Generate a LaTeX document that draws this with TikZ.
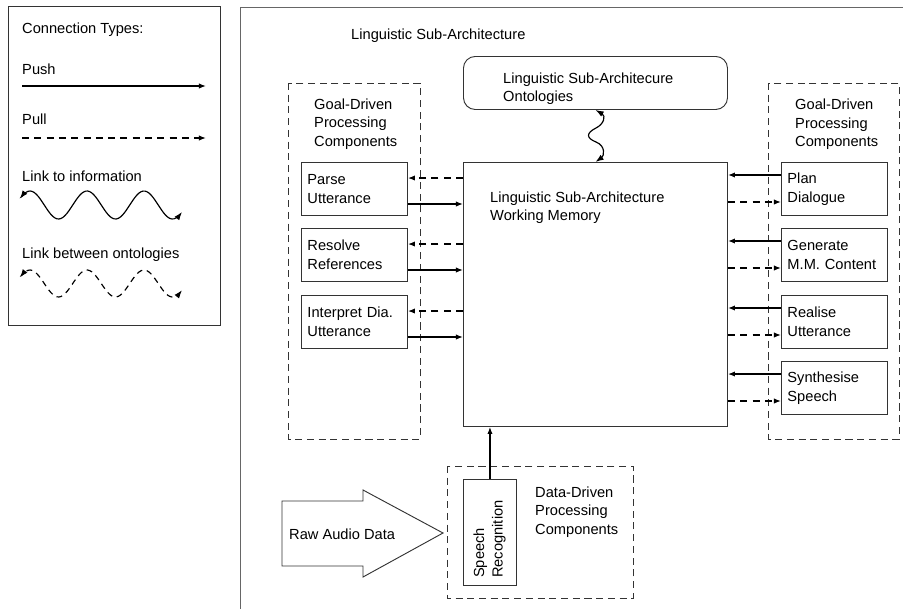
\documentclass[tikz,border=0pt]{standalone}
\usepackage{fontspec}
\setmainfont{Liberation Sans}
\usetikzlibrary{arrows.meta}

\begin{document}
\begin{tikzpicture}[
        x=0.03cm, y=-0.03cm,
        every node/.style={font=\fontsize{12.5}{15.8}\selectfont},
        txt/.style={inner sep=0pt, anchor=north west, align=left},
        comp/.style={draw=black!80, line width=0.8pt, anchor=north west, text width=2.82cm, inner xsep=0.18cm, inner ysep=0pt, minimum height=1.59cm, align=left},
        group/.style={draw=black!80, line width=0.8pt, dash pattern=on 6pt off 4pt},
        push/.style={line width=1pt, -{Latex[length=6pt,width=4.5pt]}},
        pull/.style={push, dash pattern=on 6pt off 4.5pt},
        infolink/.style={line width=1pt, {Latex[length=7pt,width=5pt]}-{Latex[length=7pt,width=5pt]}}
    ]

    \useasboundingbox (0,0) rectangle (903,609);
    \def\k{6.3158} % degrees per pixel of the legend waves

    % legend
    \draw[black!80, line width=0.8pt] (8,6) rectangle (220,325);
    \node[txt] (lgtitle) at (22,22.5) {Connection Types:};
    \node[txt] (lgpush) at (22,63.5) {Push};
    \coordinate (pushA) at (22,86);
    \coordinate (pushB) at (206,86);
    \draw[push] (pushA) -- (pushB);
    \node[txt] (lgpull) at (22,113.5) {Pull};
    \coordinate (pullA) at (22,138);
    \coordinate (pullB) at (206,138);
    \draw[pull] (pullA) -- (pullB);
    \node[txt] (lginfo) at (22,170.5) {Link to information};
    \draw[infolink, domain=20:182, samples=80, smooth] plot (\x, {205-14*cos(\k*(\x-30))});
    \node[txt] (lgonto) at (22,247.5) {Link between ontologies};
    \draw[infolink, dash pattern=on 5pt off 4pt, domain=20:182, samples=80, smooth] plot (\x, {283.5-13.5*cos(\k*(\x-30))});

    % sub-architecture frame
    \draw[black!60, line width=0.8pt] (903,7) -- (240,7) -- (240,609);
    \node[txt] (lsa) at (351,28.5) {Linguistic Sub-Architecture};

    % ontologies and working memory
    \node[draw=black!80, line width=0.8pt, rounded corners=10pt, anchor=north west, minimum width=7.92cm, minimum height=1.59cm, inner sep=0pt] (onto) at (463,56) {};
    \node[txt] (ontotxt) at (503,72.5) {Linguistic Sub-Architecure\\Ontologies};
    \node[draw=black!80, line width=0.8pt, anchor=north west, minimum width=7.92cm, minimum height=7.92cm, inner sep=0pt] (wm) at (463,162) {};
    \node[txt] (wmtxt) at (490,191.5) {Linguistic Sub-Architecture\\Working Memory};
    \draw[infolink] (onto.south) .. controls (606,116) and (604,124) .. (596,128)
        .. controls (586,133) and (586,138) .. (596,142)
        .. controls (606,146) and (604,156) .. (wm.north);

    % goal-driven, left
    \draw[group] (288,83) rectangle (420,439);
    \node[txt] (gdl) at (314,98.5) {Goal-Driven\\Processing\\Components};
    \foreach \n/\t/\lbl in {1/162/{Parse\\Utterance}, 2/228/{Resolve\\References}, 3/295/{Interpret Dia.\\Utterance}} {
        \node[comp] (l\n) at (301,\t) {\lbl};
        \path (l\n.north east) ++(0,16) coordinate (l\n pull) ++(0,26) coordinate (l\n push);
        \draw[pull] (l\n pull -| wm.west) -- (l\n pull);
        \draw[push] (l\n push) -- (l\n push -| wm.west);
    }

    % goal-driven, right
    \draw[group] (768,83) rectangle (899,439);
    \node[txt] (gdr) at (795,99) {Goal-Driven\\Processing\\Components};
    \foreach \n/\t/\lbl in {1/162/{Plan\\Dialogue}, 2/228/{Generate\\M.M. Content}, 3/295/{Realise\\Utterance}, 4/361/{Synthesise\\Speech}} {
        \node[comp] (r\n) at (781,\t) {\lbl};
        \path (r\n.north west) ++(0,13) coordinate (r\n push) ++(0,27) coordinate (r\n pull);
        \draw[push] (r\n push) -- (r\n push -| wm.east);
        \draw[pull] (r\n pull -| wm.east) -- (r\n pull);
    }

    % data-driven
    \draw[group] (447,466) rectangle (633,598);
    \node[draw=black!80, line width=0.8pt, anchor=north west, minimum width=1.59cm, minimum height=3.18cm, inner sep=0pt] (sr) at (463,479) {};
    \node[txt, rotate=90, anchor=west] (srtxt) at (489.5,578) {Speech\\Recognition};
    \draw[push] (sr.north) -- (sr.north |- wm.south);
    \node[txt] (ddp) at (535,486.5) {Data-Driven\\Processing\\Components};

    % raw audio input
    \draw[black!80, line width=0.8pt] (282,501) -- (363,501) -- (363,490) -- (443,533) -- (363,577) -- (363,566) -- (282,566) -- cycle;
    \node[txt] (raw) at (289,528.5) {Raw Audio Data};

\end{tikzpicture}
\end{document}
